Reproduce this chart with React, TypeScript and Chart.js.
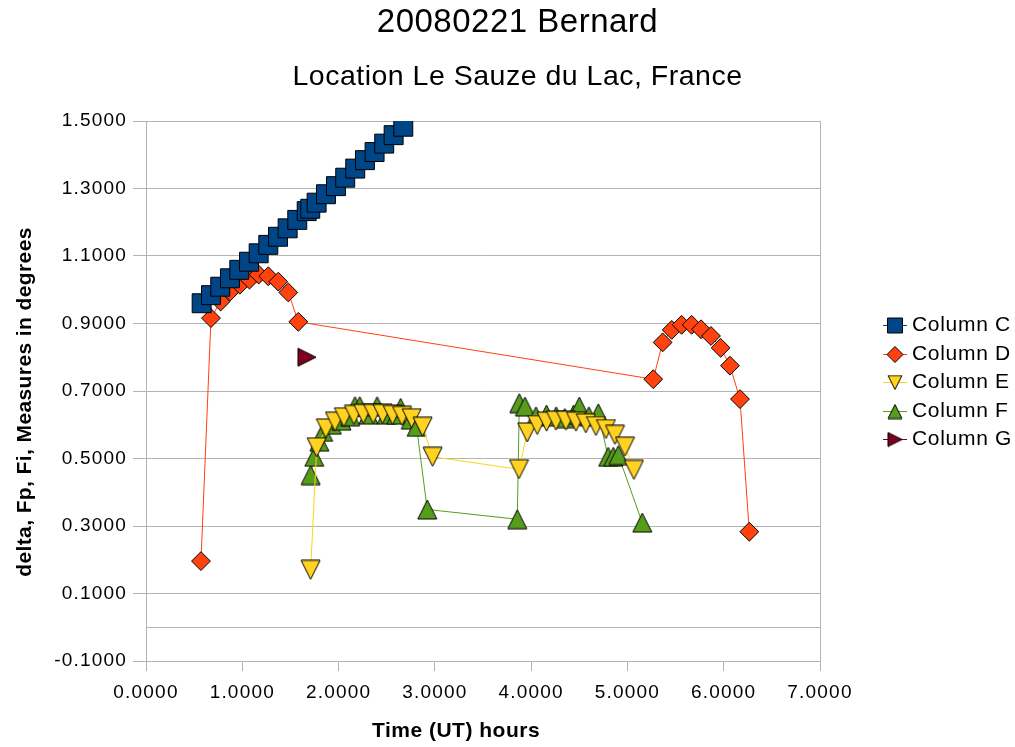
import { useEffect, useRef } from 'react';
import { Chart, registerables } from 'chart.js';
import { drawPoint } from 'chart.js/helpers';

Chart.register(...registerables);

const TITLE = '20080221 Bernard';
const SUBTITLE = 'Location Le Sauze du Lac, France';
const X_TITLE = 'Time (UT) hours';
const Y_TITLE = 'delta, Fp, Fi, Measures in degrees';

const seriesNames = ['Column C', 'Column D', 'Column E', 'Column F', 'Column G'];
const seriesColors = ['#004586', '#ff420e', '#ffd320', '#579d1c', '#7e0021'];

const cX = [0.578, 0.675, 0.771, 0.872, 0.969, 1.070, 1.170, 1.270, 1.371, 1.471, 1.571, 1.669, 1.706, 1.772, 1.869, 1.973, 2.069, 2.173, 2.274, 2.374, 2.474, 2.572, 2.672];
const cY = [0.960, 0.984, 1.009, 1.034, 1.059, 1.083, 1.108, 1.133, 1.157, 1.182, 1.207, 1.233, 1.240, 1.258, 1.283, 1.307, 1.332, 1.359, 1.384, 1.408, 1.433, 1.458, 1.483];

const dX = [0.571, 0.675, 0.775, 0.875, 0.975, 1.075, 1.170, 1.270, 1.374, 1.478, 1.582, 5.268, 5.366, 5.460, 5.563, 5.667, 5.764, 5.868, 5.968, 6.065, 6.169, 6.266];
const dY = [0.196, 0.916, 0.965, 0.995, 1.015, 1.030, 1.045, 1.040, 1.024, 0.992, 0.905, 0.735, 0.844, 0.881, 0.896, 0.896, 0.883, 0.863, 0.828, 0.775, 0.676, 0.283];

const eX = [1.710, 1.773, 1.869, 1.963, 2.056, 2.160, 2.257, 2.360, 2.458, 2.562, 2.659, 2.759, 2.873, 2.977, 3.874, 3.960, 4.064, 4.161, 4.258, 4.362, 4.466, 4.569, 4.673, 4.777, 4.871, 4.975, 5.068];
const eY = [0.170, 0.533, 0.589, 0.609, 0.622, 0.629, 0.632, 0.632, 0.632, 0.629, 0.626, 0.619, 0.594, 0.505, 0.468, 0.577, 0.599, 0.609, 0.612, 0.612, 0.609, 0.604, 0.596, 0.587, 0.570, 0.535, 0.466];

const fX = [1.710, 1.748, 1.800, 1.840, 1.930, 2.030, 2.120, 2.170, 2.220, 2.310, 2.400, 2.500, 2.600, 2.645, 2.750, 2.810, 2.921, 3.856, 3.877, 3.936, 4.050, 4.160, 4.260, 4.350, 4.440, 4.500, 4.600, 4.697, 4.800, 4.853, 4.905, 5.154];
const fY = [0.451, 0.505, 0.550, 0.579, 0.600, 0.612, 0.625, 0.655, 0.655, 0.630, 0.655, 0.630, 0.630, 0.650, 0.615, 0.594, 0.349, 0.320, 0.664, 0.654, 0.625, 0.630, 0.625, 0.620, 0.630, 0.654, 0.625, 0.634, 0.505, 0.505, 0.510, 0.310];

const gX = [1.672];
const gY = [0.800];

const xTicks = [0, 1, 2, 3, 4, 5, 6, 7];
const yTicks = [-0.1, 0.1, 0.3, 0.5, 0.7, 0.9, 1.1, 1.3, 1.5];

const GRID = '#b3b3b3';
const FAMILY = '"Liberation Sans", Arial, sans-serif';

const pts = (xs: number[], ys: number[]) => xs.map((x, i) => ({ x, y: ys[i] }));

// marker kinds: 'rect' / 'rectRot' use Chart.js shapes; 'tri' uses a box-centred triangle image
const markerKinds = ['rect', 'rectRot', 'tri', 'tri', 'tri'];
const markerRadius = [13.4, 9.4, 0, 0, 0];
const markerRotation = [0, 0, 180, 0, 90];
const triSize = [0, 0, 19, 19, 18];
const legendRadius = [10.6, 8, 0, 0, 0];
const legendTriSize = [0, 0, 14, 14, 14];

function triCanvas(color: string, size: number): HTMLCanvasElement {
  const c = document.createElement('canvas');
  const s = Math.round(size) + 2;
  c.width = s;
  c.height = s;
  const g = c.getContext('2d')!;
  g.beginPath();
  g.moveTo(s / 2, 1);
  g.lineTo(s - 1, s - 1);
  g.lineTo(1, s - 1);
  g.closePath();
  g.fillStyle = color;
  g.fill();
  g.strokeStyle = '#000';
  g.lineWidth = 1;
  g.stroke();
  return c;
}

let legendImages: (HTMLCanvasElement | null)[] = [];

function drawText(ctx: CanvasRenderingContext2D, s: string, x: number, y: number, font: string, ls: string, align: CanvasTextAlign = 'center', rot = 0) {
  ctx.save();
  ctx.font = font;
  (ctx as any).letterSpacing = ls;
  ctx.fillStyle = '#000';
  ctx.textAlign = align;
  ctx.textBaseline = 'middle';
  ctx.translate(x, y);
  ctx.rotate(rot);
  ctx.fillText(s, 0, 0);
  ctx.restore();
}

const overlay = {
  id: 'overlay',
  beforeDraw(chart: any) {
    (chart.ctx as any).letterSpacing = '1.2px';
  },
  beforeDatasetsDraw(chart: any) {
    const ctx = chart.ctx as CanvasRenderingContext2D;
    const { left, right } = chart.chartArea;
    const y = Math.round(chart.scales.y.getPixelForValue(0)) + 0.5;
    ctx.save();
    ctx.strokeStyle = GRID;
    ctx.lineWidth = 1;
    ctx.beginPath();
    ctx.moveTo(left, y);
    ctx.lineTo(right, y);
    ctx.stroke();
    ctx.restore();
  },
  afterDraw(chart: any) {
    const ctx = chart.ctx as CanvasRenderingContext2D;
    const { left, right, top, bottom } = chart.chartArea;
    const cx = chart.width / 2 + 10;
    drawText(ctx, TITLE, cx, 23, `33px ${FAMILY}`, '0.5px');
    drawText(ctx, SUBTITLE, cx, 77, `28.5px ${FAMILY}`, '0.5px');
    drawText(ctx, X_TITLE, (left + right) / 2 - 27, 731, `bold 21px ${FAMILY}`, '0.5px');
    drawText(ctx, Y_TITLE, 25, (top + bottom) / 2 + 11, `bold 21px ${FAMILY}`, '0.4px', 'center', -Math.PI / 2);

    const midY = (top + bottom) / 2 - 9;
    seriesNames.forEach((name, i) => {
      const y = Math.round(midY + (i - 2) * 28.5) + 0.5;
      ctx.save();
      ctx.strokeStyle = seriesColors[i];
      ctx.lineWidth = 1;
      ctx.beginPath();
      ctx.moveTo(883, y);
      ctx.lineTo(907, y);
      ctx.stroke();
      ctx.fillStyle = seriesColors[i];
      ctx.strokeStyle = '#000';
      const img = legendImages[i];
      if (img) {
        drawPoint(ctx, { pointStyle: img as any, rotation: markerRotation[i], radius: 7, borderWidth: 1 }, 895, y);
      } else {
        drawPoint(ctx, { pointStyle: markerKinds[i] as any, rotation: 0, radius: legendRadius[i], borderWidth: 1 }, 895, y);
      }
      ctx.restore();
      drawText(ctx, name, 912, y, `21px ${FAMILY}`, '0.7px', 'left');
    });
    (ctx as any).letterSpacing = '0px';
  },
};

export default function App() {
  const ref = useRef<HTMLCanvasElement | null>(null);

  useEffect(() => {
    if (!ref.current) return;
    const series = [pts(cX, cY), pts(dX, dY), pts(eX, eY), pts(fX, fY), pts(gX, gY)];
    const styles = markerKinds.map((k, i) => (k === 'tri' ? triCanvas(seriesColors[i], triSize[i]) : k));
    legendImages = markerKinds.map((k, i) => (k === 'tri' ? triCanvas(seriesColors[i], legendTriSize[i]) : null));
    const chart = new Chart(ref.current, {
      type: 'scatter',
      data: {
        datasets: series.map((data, i) => ({
          label: seriesNames[i],
          data,
          showLine: true,
          borderColor: seriesColors[i],
          backgroundColor: seriesColors[i],
          borderWidth: 1,
          pointStyle: styles[i] as any,
          pointRadius: markerKinds[i] === 'tri' ? 10 : markerRadius[i],
          pointRotation: markerRotation[i],
          pointBorderColor: '#000',
          pointBorderWidth: 1,
          pointBackgroundColor: seriesColors[i],
          pointHoverRadius: markerKinds[i] === 'tri' ? 10 : markerRadius[i],
        })),
      },
      options: {
        animation: false,
        responsive: false,
        events: [],
        layout: { padding: { top: 121, right: 195, bottom: 0, left: 0 } },
        plugins: {
          legend: { display: false },
          title: { display: false },
          tooltip: { enabled: false },
        },
        scales: {
          x: {
            type: 'linear',
            min: 0,
            max: 7,
            afterBuildTicks: (s: any) => { s.ticks = xTicks.map((v) => ({ value: v })); },
            ticks: {
              callback: (v: any) => Number(v).toFixed(4),
              color: '#000',
              font: { size: 19, family: FAMILY },
              padding: 10,
              maxRotation: 0,
              autoSkip: false,
            },
            grid: {
              color: (c: any) => (c.tick && c.tick.value === 7 ? GRID : 'rgba(0,0,0,0)'),
              tickColor: GRID,
              tickLength: 10,
              lineWidth: 1,
            },
            border: { color: GRID },
            afterFit: (s: any) => { s.height = 86; },
          },
          y: {
            type: 'linear',
            min: -0.1,
            max: 1.5,
            afterBuildTicks: (s: any) => { s.ticks = yTicks.map((v) => ({ value: v })); },
            ticks: {
              callback: (v: any) => Number(v).toFixed(4),
              color: '#000',
              font: { size: 19, family: FAMILY },
              padding: 6,
              autoSkip: false,
            },
            grid: { color: GRID, tickColor: GRID, tickLength: 13, lineWidth: 1 },
            border: { color: GRID },
            afterFit: (s: any) => { s.width = 146; },
          },
        },
      },
      plugins: [overlay],
    });
    return () => chart.destroy();
  }, []);

  return (
    <div style={{ position: 'absolute', left: 0, top: 0, width: 1015, height: 747, background: '#fff' }}>
      <canvas ref={ref} width={1015} height={747} />
    </div>
  );
}
